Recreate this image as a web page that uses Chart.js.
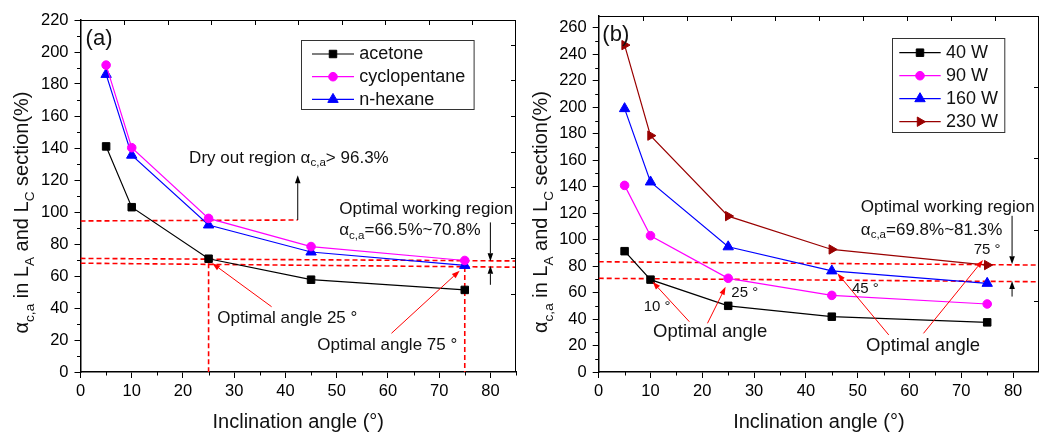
<!DOCTYPE html>
<html><head><meta charset="utf-8">
<script src="https://cdn.jsdelivr.net/npm/chart.js@4.4.1/dist/chart.umd.min.js"></script>
<style>
html,body{margin:0;padding:0;background:#fff;overflow:hidden;width:1039px;height:437px;position:relative;}
canvas{position:absolute;top:0;}
#ca{left:0;}
#cb{left:520px;}
</style></head><body>
<canvas id="ca" width="523" height="437"></canvas>
<canvas id="cb" width="526" height="437"></canvas>
<script>
// ---------- data ----------
const angles = [5, 10, 25, 45, 75];
// panel (a): working fluids
const acetone      = [141, 103, 70.8, 57.7, 51.3];
const cyclopentane = [191.8, 140.2, 96, 78.4, 69.7];
const nHexane      = [186, 135.5, 91.9, 75, 66.6];
// panel (b): heating power
const w40  = [91.3, 69.8, 50, 41.8, 37.5];
const w90  = [141, 103, 70.8, 57.9, 51.4];
const w160 = [199, 143.6, 94.6, 76.4, 67];
const w230 = [247, 178.6, 117.8, 92.6, 80.8];

// ticks
const xTickValues  = [0, 10, 20, 30, 40, 50, 60, 70, 80];
const xMinorValues = [5, 15, 25, 35, 45, 55, 65, 75, 85];
const yTickValuesA = [0, 20, 40, 60, 80, 100, 120, 140, 160, 180, 200, 220];
const yMinorValuesA = [10, 30, 50, 70, 90, 110, 130, 150, 170, 190, 210];
const yTickValuesB = [0, 20, 40, 60, 80, 100, 120, 140, 160, 180, 200, 220, 240, 260];
const yMinorValuesB = [10, 30, 50, 70, 90, 110, 130, 150, 170, 190, 210, 230, 250];
const topTickValues = [1, 2, 3, 4, 5, 6, 7, 8, 9];
const rightTickValuesA = [0, 1, 2, 3, 4, 5, 6, 7];
const rightTickValuesB = [1, 2, 3, 4];

// annotation geometry (data units)
const dashLinesA = [
  [[0, 94.4], [42.4, 95]],
  [[0, 71], [85, 69.4]],
  [[0, 68], [85, 65.5]],
  [[25, 68], [25, 0]],
  [[75, 65.6], [75, 0]]
];
const dashLinesB = [
  [[0, 83.3], [85, 80.8]],
  [[0, 70.8], [85, 68.2]]
];
const arrowsA = [
  {from: [42.4, 95], to: [42.4, 123], c: '#000'},
  {from: [80, 93.5], to: [80, 69.2], c: '#000'},
  {from: [80, 54.5], to: [80, 66.4], c: '#000'},
  {from: [37.3, 40.8], to: [25.7, 68], c: '#ff0000'},
  {from: [60.7, 24.2], to: [74, 63.3], c: '#ff0000'}
];
const arrowsB = [
  {from: [79.8, 118], to: [79.8, 81.5], c: '#000'},
  {from: [79.8, 57], to: [79.8, 68.8], c: '#000'},
  {from: [17.5, 38], to: [10.4, 68.2], c: '#ff0000'},
  {from: [21, 36.8], to: [24.5, 64.4], c: '#ff0000'},
  {from: [56, 28], to: [46.1, 74.5], c: '#ff0000'},
  {from: [62.7, 29.2], to: [74.2, 84.6], c: '#ff0000'}
];
const textsA = [
  {x: 1.0, y: 208, size: 22, parts: [['(a)']]},
  {x: 21.2, y: 133.7, size: 17, parts: [['Dry out region α'], ['c,a', 1], ['> 96.3%']]},
  {x: 50.5, y: 101.7, size: 17, parts: [['Optimal working region']]},
  {x: 50.5, y: 88.3, size: 17, parts: [['α'], ['c,a', 1], ['=66.5%~70.8%']]},
  {x: 26.7, y: 33.7, size: 17, parts: [['Optimal angle 25 °']]},
  {x: 46.2, y: 16.4, size: 17, parts: [['Optimal angle 75 °']]}
];
const textsB = [
  {x: 0.7, y: 254.5, size: 22, parts: [['(b)']]},
  {x: 50.6, y: 124.8, size: 17, parts: [['Optimal working region']]},
  {x: 50.6, y: 107.2, size: 17, parts: [['α'], ['c,a', 1], ['=69.8%~81.3%']]},
  {x: 72.4, y: 92.1, size: 15, parts: [['75 °']]},
  {x: 48.9, y: 62.9, size: 15, parts: [['45 °']]},
  {x: 25.6, y: 59.9, size: 15, parts: [['25 °']]},
  {x: 8.7, y: 48.9, size: 15, parts: [['10 °']]},
  {x: 10.5, y: 30.4, size: 18.5, parts: [['Optimal angle']]},
  {x: 51.6, y: 19.6, size: 18.5, parts: [['Optimal angle']]}
];
const yTitleParts = [['α'], ['c,a', 1], [' in L'], ['A', 1], [' and L'], ['C', 1], [' section(%)']];
const xTitle = 'Inclination angle (°)';

// ---------- helpers ----------
const FONT = '"Liberation Sans", Arial, Helvetica, sans-serif';
Chart.defaults.font.family = FONT;
Chart.defaults.color = '#000';

function richWidth(ctx, parts, size) {
  let w = 0;
  parts.forEach(p => {
    ctx.font = (p[1] ? size * 0.68 : size) + 'px ' + FONT;
    w += ctx.measureText(p[0]).width;
  });
  return w;
}
function drawRich(ctx, parts, x, y, size, baseline) {
  ctx.textBaseline = baseline || 'middle';
  ctx.textAlign = 'left';
  let cx = x;
  parts.forEach(p => {
    const sub = !!p[1];
    ctx.font = (sub ? size * 0.68 : size) + 'px ' + FONT;
    ctx.fillText(p[0], cx, sub ? y + size * 0.3 : y);
    cx += ctx.measureText(p[0]).width;
  });
}
function drawArrow(ctx, x1, y1, x2, y2, color) {
  const head = 8, hw = 2.8;
  const ang = Math.atan2(y2 - y1, x2 - x1);
  const bx = x2 - head * Math.cos(ang), by = y2 - head * Math.sin(ang);
  ctx.strokeStyle = color; ctx.fillStyle = color; ctx.lineWidth = 1;
  ctx.beginPath(); ctx.moveTo(x1, y1); ctx.lineTo(bx, by); ctx.stroke();
  ctx.beginPath();
  ctx.moveTo(x2, y2);
  ctx.lineTo(bx + hw * Math.sin(ang), by - hw * Math.cos(ang));
  ctx.lineTo(bx - hw * Math.sin(ang), by + hw * Math.cos(ang));
  ctx.closePath(); ctx.fill();
}

const deco = {
  id: 'deco',
  afterDraw(chart, args, o) {
    const ctx = chart.ctx, a = chart.chartArea;
    const xs = chart.scales.x, ys = chart.scales.y, x2 = chart.scales.x2, y2 = chart.scales.y2;
    ctx.save();
    // frame top & right with inward ticks
    ctx.strokeStyle = '#000'; ctx.lineWidth = 1;
    ctx.beginPath();
    ctx.moveTo(a.left, a.top + 0.5); ctx.lineTo(a.right, a.top + 0.5);
    ctx.moveTo(a.right - 0.5, a.top); ctx.lineTo(a.right - 0.5, a.bottom);
    o.topTicks.forEach(v => { const px = Math.round(x2.getPixelForValue(v)) + 0.5; ctx.moveTo(px, a.top); ctx.lineTo(px, a.top + 5); });
    o.rightTicks.forEach(v => { const py = Math.round(y2.getPixelForValue(v)) + 0.5; ctx.moveTo(a.right, py); ctx.lineTo(a.right - 5, py); });
    // minor ticks on main axes
    o.xMinor.forEach(v => { const px = Math.round(xs.getPixelForValue(v)) + 0.5; ctx.moveTo(px, a.bottom); ctx.lineTo(px, a.bottom + 3.5); });
    o.yMinor.forEach(v => { const py = Math.round(ys.getPixelForValue(v)) + 0.5; ctx.moveTo(a.left, py); ctx.lineTo(a.left - 3.5, py); });
    ctx.stroke();

    // arrows
    o.arrows.forEach(r => drawArrow(ctx, xs.getPixelForValue(r.from[0]), ys.getPixelForValue(r.from[1]),
                                        xs.getPixelForValue(r.to[0]), ys.getPixelForValue(r.to[1]), r.c));
    // texts
    ctx.fillStyle = '#111';
    o.texts.forEach(t => drawRich(ctx, t.parts, xs.getPixelForValue(t.x), ys.getPixelForValue(t.y), t.size));

    // y title (rotated, with subscripts)
    ctx.save();
    ctx.translate(o.yTitle.x, o.yTitle.y);
    ctx.rotate(-Math.PI / 2);
    const W = richWidth(ctx, yTitleParts, 20);
    ctx.fillStyle = '#111';
    drawRich(ctx, yTitleParts, -W / 2, 0, 20, 'alphabetic');
    ctx.restore();

    // legend
    const L = o.legend;
    ctx.strokeStyle = '#333'; ctx.lineWidth = 1;
    ctx.strokeRect(Math.round(L.x) + 0.5, Math.round(L.y) + 0.5, L.w, L.h);
    L.items.forEach((idx, i) => {
      const ds = chart.data.datasets[idx];
      const y = L.y0 + i * L.dy;
      ctx.strokeStyle = ds.borderColor; ctx.lineWidth = 1.2;
      ctx.beginPath(); ctx.moveTo(L.lx0, y); ctx.lineTo(L.lx1, y); ctx.stroke();
      ctx.fillStyle = ds.pointBackgroundColor; ctx.strokeStyle = ds.borderColor; ctx.lineWidth = 1;
      Chart.helpers.drawPoint(ctx, {pointStyle: ds.pointStyle, radius: ds.pointRadius, rotation: ds.pointRotation || 0, borderWidth: 1}, (L.lx0 + L.lx1) / 2, y);
      ctx.fillStyle = '#111'; ctx.font = '18px ' + FONT; ctx.textBaseline = 'middle'; ctx.textAlign = 'left';
      ctx.fillText(ds.label, L.tx, y + 0.5);
    });
    ctx.restore();
  }
};

function series(label, values, color, style, r, rot) {
  return {
    label, data: angles.map((x, i) => ({x, y: values[i]})),
    borderColor: color, backgroundColor: color, pointBackgroundColor: color, pointBorderColor: color,
    borderWidth: 1.2, pointStyle: style, pointRadius: r, pointRotation: rot || 0, pointBorderWidth: 1,
    tension: 0, order: 0
  };
}
function dashSet(seg) {
  return {
    label: '', data: seg.map(p => ({x: p[0], y: p[1]})), borderColor: '#ff0000', borderWidth: 1.6,
    borderDash: [5, 3], pointRadius: 0, tension: 0, order: 1
  };
}
function axisCommon() {
  return {
    grid: {display: true, drawOnChartArea: false, drawTicks: true, tickLength: 6, color: '#000', tickWidth: 1},
    border: {display: true, color: '#000', width: 1.5}
  };
}
function makeChart(id, sets, dashes, yMax, yTicks, yMinor, y2min, y2max, rightTicks, pad, yAxisW, texts, arrows, legend, yTitle) {
  return new Chart(document.getElementById(id), {
    type: 'line',
    data: {datasets: sets.concat(dashes.map(dashSet))},
    options: {
      responsive: false, animation: false, devicePixelRatio: 1,
      layout: {padding: {top: pad.top, right: pad.right, left: 0, bottom: 0}},
      plugins: {
        legend: {display: false}, tooltip: {enabled: false},
        deco: {topTicks: topTickValues, rightTicks, xMinor: xMinorValues, yMinor, texts, arrows, legend, yTitle}
      },
      scales: {
        x: Object.assign(axisCommon(), {
          type: 'linear', position: 'bottom', min: 0, max: 85,
          afterBuildTicks: s => { s.ticks = xTickValues.map(v => ({value: v})); },
          afterFit: s => { s.height = 65; },
          ticks: {font: {size: 16.5}, color: '#000', padding: 4, maxRotation: 0, autoSkip: false},
          title: {display: true, text: xTitle, font: {size: 20}, color: '#111', padding: {top: 4, bottom: 3}}
        }),
        y: Object.assign(axisCommon(), {
          type: 'linear', position: 'left', min: 0, max: yMax,
          afterBuildTicks: s => { s.ticks = yTicks.map(v => ({value: v})); },
          afterFit: s => { s.width = yAxisW; },
          ticks: {font: {size: 16.5}, color: '#000', padding: 6, autoSkip: false}
        }),
        x2: {type: 'linear', position: 'top', display: false, min: 0, max: 10},
        y2: {type: 'linear', position: 'right', display: false, min: y2min, max: y2max}
      }
    },
    plugins: [deco]
  });
}

makeChart('ca',
  [series('acetone', acetone, '#000000', 'rect', 5.3),
   series('cyclopentane', cyclopentane, '#ff00ff', 'circle', 4.3),
   series('n-hexane', nHexane, '#0000ff', 'triangle', 6)],
  dashLinesA, 220, yTickValuesA, yMinorValuesA, -2.2, 7.7, rightTickValuesA,
  {top: 20, right: 3}, 80.5, textsA, arrowsA,
  {x: 300.7, y: 40, w: 172.6, h: 69, y0: 54, dy: 22.7, lx0: 312, lx1: 354, tx: 359.3, items: [0, 1, 2]},
  {x: 28, y: 212.5});

makeChart('cb',
  [series('40 W', w40, '#000000', 'rect', 5.3),
   series('90 W', w90, '#ff00ff', 'circle', 4.3),
   series('160 W', w160, '#0000ff', 'triangle', 6),
   series('230 W', w230, '#990000', 'triangle', 5.4, 90)],
  dashLinesB, 269, yTickValuesB, yMinorValuesB, 0, 5, rightTickValuesB,
  {top: 16, right: 2.7}, 78.7, textsB, arrowsB,
  {x: 371.7, y: 37.7, w: 112.3, h: 94, y0: 52.7, dy: 23, lx0: 379.3, lx1: 420.7, tx: 426, items: [0, 1, 2, 3]},
  {x: 26.5, y: 212});
</script>
</body></html>
